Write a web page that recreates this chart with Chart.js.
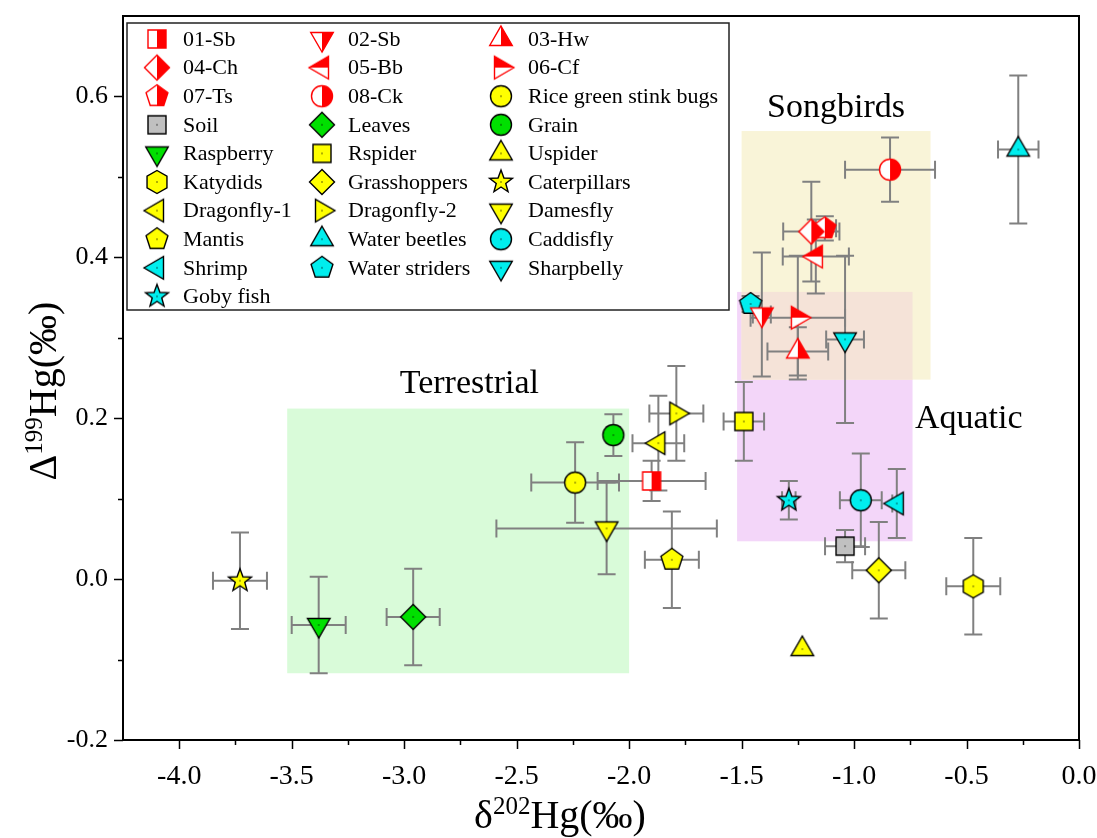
<!doctype html>
<html>
<head>
<meta charset="utf-8" />
<title>Hg isotope scatter</title>
<script src="https://cdn.jsdelivr.net/npm/chart.js@4.4.1/dist/chart.umd.min.js"></script>
<style>
	html, body { margin: 0; padding: 0; background: #fff; }
	canvas { display: block; }
</style>
</head>
<body>
<canvas id="chart" width="1097" height="838"></canvas>
<script>
// data (delta202Hg vs Delta199Hg, per mil)
const names = [
	"01-Sb", "02-Sb", "03-Hw", "04-Ch", "05-Bb", "06-Cf", "07-Ts", "08-Ck",
	"Rice green stink bugs", "Soil", "Leaves", "Grain", "Raspberry", "Rspider",
	"Uspider", "Katydids", "Grasshoppers", "Caterpillars", "Dragonfly-1",
	"Dragonfly-2", "Damesfly", "Mantis", "Water beetles", "Caddisfly", "Shrimp",
	"Water striders", "Sharpbelly", "Goby fish"
];
const xVals = [-1.90, -1.41, -1.25, -1.19, -1.17, -1.25, -1.13, -0.84,
	-2.24, -1.04, -2.96, -2.07, -3.38, -1.49, -1.23, -0.47, -0.89, -3.73,
	-1.87, -1.79, -2.10, -1.81, -0.27, -0.97, -0.81, -1.46, -1.04, -1.29];
const yVals = [0.122, 0.329, 0.283, 0.432, 0.401, 0.325, 0.436, 0.509,
	0.120, 0.041, -0.047, 0.179, -0.057, 0.196, -0.087, -0.009, 0.011, -0.002,
	0.169, 0.206, 0.063, 0.024, 0.534, 0.098, 0.094, 0.342, 0.298, 0.098];
const xErrs = [0.24, 0.04, 0.135, 0.125, 0.147, 0.21, 0.05, 0.20,
	0.195, 0.089, 0.118, 0.03, 0.12, 0.09, 0, 0.12, 0.118, 0.12,
	0.115, 0.12, 0.49, 0.12, 0.09, 0.093, 0.02, 0.03, 0.084, 0.03];
const yErrs = [0.025, 0.077, 0.03, 0.062, 0.046, 0.077, 0.015, 0.04,
	0.05, 0.02, 0.06, 0.026, 0.06, 0.049, 0, 0.06, 0.06, 0.06,
	0.059, 0.059, 0.057, 0.06, 0.092, 0.058, 0.043, 0.01, 0.104, 0.024];

// shaded groups
const regionNames = ["Terrestrial", "Songbirds", "Aquatic"];
const regionX = [[-3.52, -2.0], [-1.50, -0.66], [-1.52, -0.74]];
const regionY = [[-0.117, 0.212], [0.248, 0.557], [0.047, 0.357]];
const regionLabelPos = [[-2.71, 0.243], [-1.08, 0.586], [-0.49, 0.199]];

const xTicks = { min: -4.25, max: 0, step: 0.25 };
const yTicks = { min: -0.2, max: 0.7, step: 0.1 };

// marker look per series
const shapes = ["square", "triDown", "triUp", "diamond", "triLeft", "triRight", "pentagon", "circle",
	"circle", "square", "diamond", "circle", "triDown", "square", "triUp", "hexagon", "diamond", "star",
	"triLeft", "triRight", "triDown", "pentagon", "triUp", "circle", "triLeft", "pentagon", "triDown", "star"];
const RED = "#ff0000", YEL = "#ffff00", GRN = "#00e000", CYA = "#00eeee", GRY = "#c0c0c0";
const fills = [RED, RED, RED, RED, RED, RED, RED, RED,
	YEL, GRY, GRN, GRN, GRN, YEL, YEL, YEL, YEL, YEL,
	YEL, YEL, YEL, YEL, CYA, CYA, CYA, CYA, CYA, CYA];
const halves = ["right", "right", "right", "right", "top", "top", "right", "right"];

const SERIF = "'Liberation Serif', 'Times New Roman', serif";

function poly(ctx, n, R, start) {
	for (let k = 0; k < n; k++) {
		const a = start + k * 2 * Math.PI / n;
		const px = R * Math.cos(a), py = R * Math.sin(a);
		if (k === 0) ctx.moveTo(px, py); else ctx.lineTo(px, py);
	}
}

function shapePath(ctx, shape) {
	ctx.beginPath();
	switch (shape) {
		case "square": ctx.rect(-9, -9, 18, 18); break;
		case "circle": ctx.arc(0, 0, 10.5, 0, Math.PI * 2); break;
		case "diamond": poly(ctx, 4, 12.5, -Math.PI / 2); break;
		case "triUp": poly(ctx, 3, 13, -Math.PI / 2); break;
		case "triDown": poly(ctx, 3, 13, Math.PI / 2); break;
		case "triLeft": poly(ctx, 3, 13, Math.PI); break;
		case "triRight": poly(ctx, 3, 13, 0); break;
		case "hexagon": poly(ctx, 6, 11.5, -Math.PI / 2); break;
		case "pentagon": poly(ctx, 5, 11.5, -Math.PI / 2); break;
		case "star":
			for (let k = 0; k < 10; k++) {
				const R = k % 2 === 0 ? 12 : 5;
				const a = -Math.PI / 2 + k * Math.PI / 5;
				if (k === 0) ctx.moveTo(R * Math.cos(a), R * Math.sin(a));
				else ctx.lineTo(R * Math.cos(a), R * Math.sin(a));
			}
			break;
	}
	ctx.closePath();
}

function makeMarker(i) {
	const c = document.createElement("canvas");
	c.width = 32; c.height = 32;
	const ctx = c.getContext("2d");
	ctx.translate(16, 16);
	const half = halves[i];
	shapePath(ctx, shapes[i]);
	ctx.lineWidth = 1.4;
	if (half) {
		ctx.fillStyle = "#fff";
		ctx.fill();
		ctx.save();
		ctx.beginPath();
		if (half === "right") ctx.rect(0, -16, 16, 32);
		else ctx.rect(-16, -16, 32, 16);
		ctx.clip();
		shapePath(ctx, shapes[i]);
		ctx.fillStyle = fills[i];
		ctx.fill();
		ctx.restore();
		shapePath(ctx, shapes[i]);
		ctx.strokeStyle = fills[i];
		ctx.stroke();
	} else {
		ctx.fillStyle = fills[i];
		ctx.fill();
		ctx.strokeStyle = "#000";
		ctx.stroke();
		ctx.fillStyle = "rgba(0,0,0,0.55)";
		ctx.fillRect(-0.75, -0.75, 1.5, 1.5);
	}
	return c;
}

const markers = names.map((n, i) => makeMarker(i));

function supText(ctx, parts, cx, cy, big, small) {
	let w = 0;
	parts.forEach(([t, sup]) => {
		ctx.font = (sup ? small : big) + "px " + SERIF;
		w += ctx.measureText(t).width;
	});
	let x = cx - w / 2;
	ctx.textAlign = "left";
	ctx.textBaseline = "alphabetic";
	parts.forEach(([t, sup]) => {
		ctx.font = (sup ? small : big) + "px " + SERIF;
		ctx.fillText(t, x, sup ? cy - big * 0.36 : cy);
		x += ctx.measureText(t).width;
	});
}

const hgPlugin = {
	id: "hgPlugin",
	beforeDatasetsDraw(chart) {
		const { ctx, chartArea: a, scales: { x, y } } = chart;
		ctx.save();
		ctx.beginPath();
		ctx.rect(a.left, a.top, a.right - a.left, a.bottom - a.top);
		ctx.clip();
		// shaded regions
		const boxColors = ["#d9fbd9", "#f9f4d8", "#f3d6f9"];
		const rects = regionX.map((rx, k) => {
			const x0 = x.getPixelForValue(rx[0]), x1 = x.getPixelForValue(rx[1]);
			const y0 = y.getPixelForValue(regionY[k][1]), y1 = y.getPixelForValue(regionY[k][0]);
			return [x0, y0, x1, y1];
		});
		[0, 2, 1].forEach(k => {
			const r = rects[k];
			ctx.fillStyle = boxColors[k];
			ctx.fillRect(r[0], r[1], r[2] - r[0], r[3] - r[1]);
		});
		// songbird / aquatic overlap
		const s = rects[1], q = rects[2];
		const ox0 = Math.max(s[0], q[0]), ox1 = Math.min(s[2], q[2]);
		const oy0 = Math.max(s[1], q[1]), oy1 = Math.min(s[3], q[3]);
		if (ox1 > ox0 && oy1 > oy0) {
			ctx.fillStyle = "#f5e3d8";
			ctx.fillRect(ox0, oy0, ox1 - ox0, oy1 - oy0);
		}
		// error bars
		ctx.strokeStyle = "#808080";
		ctx.lineWidth = 2;
		const cap = 9;
		names.forEach((n, i) => {
			const px = x.getPixelForValue(xVals[i]), py = y.getPixelForValue(yVals[i]);
			if (xErrs[i] > 0) {
				const l = x.getPixelForValue(xVals[i] - xErrs[i]), r = x.getPixelForValue(xVals[i] + xErrs[i]);
				ctx.beginPath();
				ctx.moveTo(l, py); ctx.lineTo(r, py);
				ctx.moveTo(l, py - cap); ctx.lineTo(l, py + cap);
				ctx.moveTo(r, py - cap); ctx.lineTo(r, py + cap);
				ctx.stroke();
			}
			if (yErrs[i] > 0) {
				const t = y.getPixelForValue(yVals[i] + yErrs[i]), b = y.getPixelForValue(yVals[i] - yErrs[i]);
				ctx.beginPath();
				ctx.moveTo(px, t); ctx.lineTo(px, b);
				ctx.moveTo(px - cap, t); ctx.lineTo(px + cap, t);
				ctx.moveTo(px - cap, b); ctx.lineTo(px + cap, b);
				ctx.stroke();
			}
		});
		ctx.restore();
	},
	afterDatasetsDraw(chart) {
		const { ctx, chartArea: a, scales: { x, y } } = chart;
		ctx.save();
		// region labels
		ctx.fillStyle = "#000";
		ctx.font = "34px " + SERIF;
		ctx.textAlign = "center";
		ctx.textBaseline = "middle";
		regionNames.forEach((t, k) => {
			ctx.fillText(t, x.getPixelForValue(regionLabelPos[k][0]), y.getPixelForValue(regionLabelPos[k][1]));
		});

		// legend
		const L = 127, T = 23, R = 729, B = 310;
		ctx.fillStyle = "#fff";
		ctx.fillRect(L, T, R - L, B - T);
		ctx.strokeStyle = "#222";
		ctx.lineWidth = 1.5;
		ctx.strokeRect(L, T, R - L, B - T);
		const colMarker = [157, 322, 501], colText = [183, 348, 528];
		ctx.font = "22px " + SERIF;
		ctx.textAlign = "left";
		ctx.fillStyle = "#000";
		names.forEach((n, i) => {
			const col = i % 3, row = Math.floor(i / 3);
			const cy = 39 + row * 28.6;
			ctx.drawImage(markers[i], colMarker[col] - 16, cy - 16);
			ctx.fillText(n, colText[col], cy + 1);
		});

		// frame
		ctx.strokeStyle = "#000";
		ctx.lineWidth = 2;
		ctx.strokeRect(a.left, a.top, a.right - a.left, a.bottom - a.top);

		// ticks (major longer than minor)
		ctx.lineWidth = 1.5;
		ctx.beginPath();
		x.ticks.forEach(t => {
			const major = t.label !== "";
			if (!major && (t.value <= xTicks.min || t.value >= xTicks.max)) return;
			const px = Math.round(x.getPixelForValue(t.value)) + 0.5;
			ctx.moveTo(px, a.bottom); ctx.lineTo(px, a.bottom + (major ? 9 : 5));
		});
		y.ticks.forEach(t => {
			const major = t.label !== "";
			if (!major && (t.value <= yTicks.min || t.value >= yTicks.max)) return;
			const py = Math.round(y.getPixelForValue(t.value)) + 0.5;
			ctx.moveTo(a.left, py); ctx.lineTo(a.left - (major ? 9 : 5), py);
		});
		ctx.stroke();

		// axis titles with superscripts
		ctx.fillStyle = "#000";
		supText(ctx, [["\u03b4", false], ["202", true], ["Hg(\u2030)", false]], 560, 828, 40, 25);
		ctx.translate(42, 391);
		ctx.rotate(-Math.PI / 2);
		supText(ctx, [["\u0394", false], ["199", true], ["Hg(\u2030)", false]], 0, 14, 40, 25);
		ctx.restore();
	}
};

Chart.defaults.font.family = SERIF;
Chart.defaults.color = "#000";

new Chart(document.getElementById("chart").getContext("2d"), {
	type: "scatter",
	data: {
		datasets: names.map((n, i) => ({
			label: n,
			data: [{ x: xVals[i], y: yVals[i] }],
			pointStyle: markers[i],
			pointRadius: 10,
			showLine: false
		}))
	},
	options: {
		responsive: false,
		animation: false,
		devicePixelRatio: 1,
		layout: { padding: { top: 16, right: 18, left: 0, bottom: 0 } },
		plugins: { legend: { display: false }, tooltip: { enabled: false } },
		scales: {
			x: {
				type: "linear",
				min: xTicks.min,
				max: xTicks.max,
				grid: { display: false },
				border: { display: false },
				ticks: {
					stepSize: xTicks.step,
					autoSkip: false,
					maxRotation: 0,
					padding: 12,
					font: { size: 28 },
					callback: v => Math.abs(v * 2 - Math.round(v * 2)) < 1e-6 ? (Math.abs(v) < 1e-9 ? "0.0" : v.toFixed(1)) : ""
				},
				afterFit: s => { s.height = 98; s.paddingLeft = 0; s.paddingRight = 0; }
			},
			y: {
				type: "linear",
				min: yTicks.min,
				max: yTicks.max,
				grid: { display: false },
				border: { display: false },
				ticks: {
					stepSize: yTicks.step,
					autoSkip: false,
					padding: 7,
					font: { size: 26 },
					callback: v => Math.abs(v * 5 - Math.round(v * 5)) < 1e-6 ? (Math.abs(v) < 1e-9 ? "0.0" : v.toFixed(1)) : ""
				},
				afterFit: s => { s.width = 123; s.paddingTop = 0; s.paddingBottom = 0; }
			}
		}
	},
	plugins: [hgPlugin]
});
</script>
</body>
</html>
